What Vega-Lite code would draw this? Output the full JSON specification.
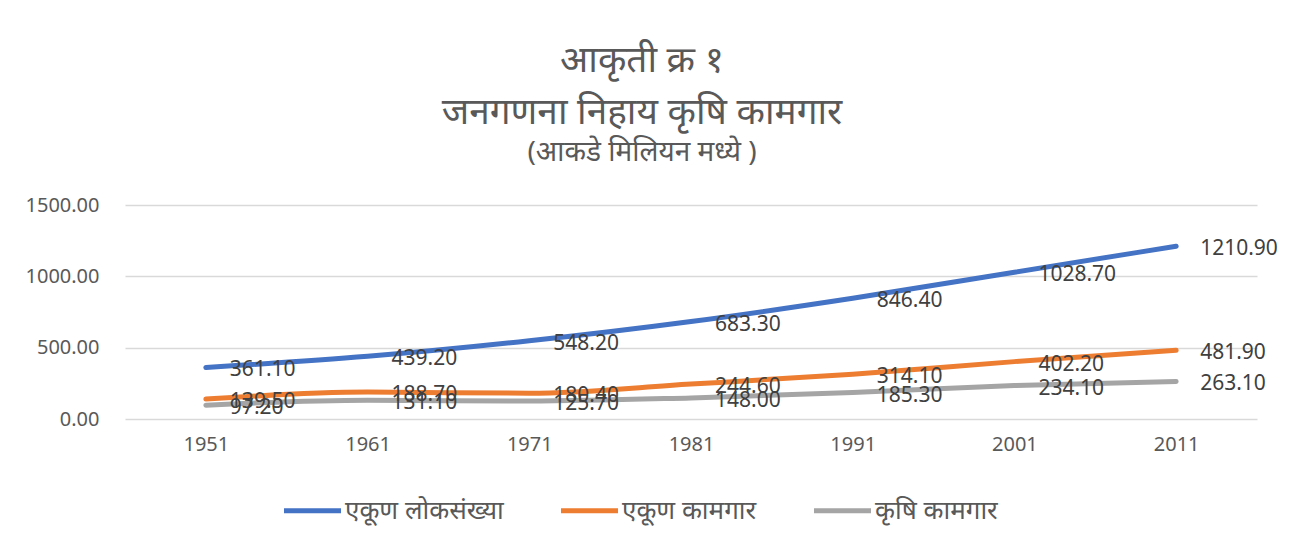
{
  "$schema": "https://vega.github.io/schema/vega-lite/v6.json",
  "width": 1132,
  "height": 214,
  "autosize": {"type": "none"},
  "padding": {"left": 125, "top": 205, "right": 32, "bottom": 119},
  "background": "white",
  "title": {
    "text": ["आकृती क्र १", "जनगणना निहाय कृषि कामगार"],
    "subtitle": "(आकडे मिलियन मध्ये )",
    "fontSize": 37,
    "fontWeight": "normal",
    "lineHeight": 52,
    "subtitleFontSize": 28,
    "subtitleFontWeight": "normal",
    "subtitlePadding": 7,
    "color": "#595959",
    "subtitleColor": "#595959",
    "anchor": "middle",
    "dx": -49,
    "offset": 27,
    "font": "Noto Sans",
    "subtitleFont": "Noto Sans"
  },
  "data": {
    "values": [
      {"year": "1951", "series": "एकूण लोकसंख्या", "value": 361.1},
      {"year": "1961", "series": "एकूण लोकसंख्या", "value": 439.2},
      {"year": "1971", "series": "एकूण लोकसंख्या", "value": 548.2},
      {"year": "1981", "series": "एकूण लोकसंख्या", "value": 683.3},
      {"year": "1991", "series": "एकूण लोकसंख्या", "value": 846.4},
      {"year": "2001", "series": "एकूण लोकसंख्या", "value": 1028.7},
      {"year": "2011", "series": "एकूण लोकसंख्या", "value": 1210.9},
      {"year": "1951", "series": "एकूण कामगार", "value": 139.5},
      {"year": "1961", "series": "एकूण कामगार", "value": 188.7},
      {"year": "1971", "series": "एकूण कामगार", "value": 180.4},
      {"year": "1981", "series": "एकूण कामगार", "value": 244.6},
      {"year": "1991", "series": "एकूण कामगार", "value": 314.1},
      {"year": "2001", "series": "एकूण कामगार", "value": 402.2},
      {"year": "2011", "series": "एकूण कामगार", "value": 481.9},
      {"year": "1951", "series": "कृषि कामगार", "value": 97.2},
      {"year": "1961", "series": "कृषि कामगार", "value": 131.1},
      {"year": "1971", "series": "कृषि कामगार", "value": 125.7},
      {"year": "1981", "series": "कृषि कामगार", "value": 148.0},
      {"year": "1991", "series": "कृषि कामगार", "value": 185.3},
      {"year": "2001", "series": "कृषि कामगार", "value": 234.1},
      {"year": "2011", "series": "कृषि कामगार", "value": 263.1}
    ]
  },
  "encoding": {
    "x": {
      "field": "year",
      "type": "ordinal",
      "scale": {"type": "point", "padding": 0.5},
      "axis": {
        "title": null,
        "labelAngle": 0,
        "domain": false,
        "ticks": false,
        "labelFontSize": 20,
        "labelColor": "#595959",
        "labelFont": "Noto Sans",
        "labelPadding": 15
      }
    },
    "y": {
      "field": "value",
      "type": "quantitative",
      "scale": {"domain": [0, 1500]},
      "axis": {
        "title": null,
        "values": [0, 500, 1000, 1500],
        "format": ".2f",
        "domain": false,
        "ticks": false,
        "gridColor": "#D9D9D9",
        "gridWidth": 1.5,
        "labelFontSize": 20,
        "labelColor": "#595959",
        "labelFont": "Noto Sans",
        "labelPadding": 26
      }
    },
    "color": {
      "field": "series",
      "type": "nominal",
      "sort": ["एकूण लोकसंख्या", "एकूण कामगार", "कृषि कामगार"],
      "scale": {
        "domain": ["एकूण लोकसंख्या", "एकूण कामगार", "कृषि कामगार"],
        "range": ["#4472C4", "#ED7D31", "#A5A5A5"]
      },
      "legend": {
        "title": null,
        "orient": "none",
        "legendX": 156,
        "legendY": 274,
        "direction": "horizontal",
        "symbolType": "stroke",
        "symbolSize": 3250,
        "symbolStrokeWidth": 5,
        "labelFontSize": 26,
        "labelColor": "#595959",
        "labelFont": "Noto Sans",
        "labelOffset": 1,
        "columnPadding": 46,
        "labelLimit": 300
      }
    }
  },
  "layer": [
    {
      "mark": {"type": "line", "strokeWidth": 5, "interpolate": "monotone", "strokeCap": "round"}
    },
    {
      "mark": {"type": "text", "align": "left", "baseline": "middle", "dx": 24, "dy": 3, "fontSize": 21, "color": "#404040", "font": "Noto Sans"},
      "encoding": {
        "text": {"field": "value", "type": "quantitative", "format": ".2f"},
        "color": {"value": "#404040"}
      }
    }
  ],
  "config": {"view": {"stroke": null}}
}
